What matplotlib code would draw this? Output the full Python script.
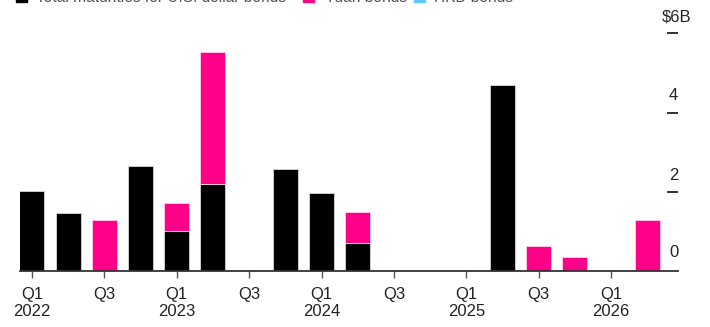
import numpy as np
import matplotlib
matplotlib.use("Agg")
import matplotlib.pyplot as plt
from matplotlib.patches import Rectangle

plt.rcParams['font.family'] = ['Liberation Sans', 'DejaVu Sans']

# quarterly maturities, $B
quarters = ['Q1\n2022', 'Q2', 'Q3', 'Q4',
            'Q1\n2023', 'Q2', 'Q3', 'Q4',
            'Q1\n2024', 'Q2', 'Q3', 'Q4',
            'Q1\n2025', 'Q2', 'Q3', 'Q4',
            'Q1\n2026', 'Q2']
usd_bonds = [2.03, 1.46, 0.0, 2.65, 1.02, 2.2, 0.0, 2.58, 1.96, 0.7,
             0.0, 0.0, 0.0, 4.7, 0.0, 0.0, 0.0, 0.0]
yuan_bonds = [0.0, 0.0, 1.29, 0.0, 0.69, 3.33, 0.0, 0.0, 0.0, 0.78,
              0.0, 0.0, 0.0, 0.0, 0.64, 0.35, 0.0, 1.29]
hkd_bonds = [0.0] * 18

y_ticks = [2, 4, 6]
y_labels = ['2', '4', '$6B']

c_usd = '#000000'
c_yuan = '#ff0088'
c_hkd = '#5ac8fa'

fig = plt.figure(figsize=(7.1, 3.27), dpi=100)
ax = fig.add_axes([0.0282, 0.1713, 0.9268, 0.7269])

x = np.arange(len(quarters))
usd = np.array(usd_bonds)
yuan = np.array(yuan_bonds)
hkd = np.array(hkd_bonds)
w = 0.69

# only draw segments that have a value so empty ones leave no edge line
m = usd > 0
ax.bar(x[m], usd[m], width=w, color=c_usd, edgecolor='#d8d8d8', linewidth=0.6)
m = yuan > 0
ax.bar(x[m], yuan[m], width=w, bottom=usd[m], color=c_yuan,
       edgecolor='#ffd0e8', linewidth=0.6)
m = hkd > 0
ax.bar(x[m], hkd[m], width=w, bottom=(usd + yuan)[m], color=c_hkd, linewidth=0)

ax.set_xlim(-0.33, 17.85)
ax.set_ylim(0, 6)

for s in ['top', 'left', 'right']:
    ax.spines[s].set_visible(False)
ax.spines['bottom'].set_color('#333333')
ax.spines['bottom'].set_linewidth(1.3)

# x ticks every half year
ax.set_xticks(x[::2])
ax.set_xticklabels([quarters[i] for i in x[::2]], fontsize=12, color='#222222')
ax.tick_params(axis='x', length=5, width=1, color='#555555', pad=6.5)

# y ticks drawn as inward dashes on the right edge
ax.yaxis.tick_right()
ax.set_yticks(y_ticks)
ax.set_yticklabels([])
ax.tick_params(axis='y', direction='in', length=8, width=1.3, color='#222222')
for v, lab in zip(y_ticks + [0], y_labels + ['0']):
    dx = -11.5 if lab.startswith('$') else -6.5
    dy = 13.5 if v == 0 else 12
    ax.annotate(lab, xy=(1, v), xycoords=('axes fraction', 'data'),
                xytext=(dx, dy), textcoords='offset points',
                ha='left', va='center', fontsize=12, color='#222222')

# legend row sitting along the top edge
legend_items = [(16, 36, c_usd, 'Total maturities for U.S. dollar bonds'),
                (303, 325, c_yuan, 'Yuan bonds'),
                (414, 434, c_hkd, 'HKD bonds')]
for sx, tx, col, lab in legend_items:
    fig.add_artist(Rectangle((sx / 710, 1 - 2 / 327), 11 / 710, 11 / 327,
                             transform=fig.transFigure, color=col))
    fig.text(tx / 710, 1 - 1.5 / 327, lab, fontsize=11.2, color='#555555',
             ha='left', va='baseline')

fig.savefig('out.png', dpi=100)
